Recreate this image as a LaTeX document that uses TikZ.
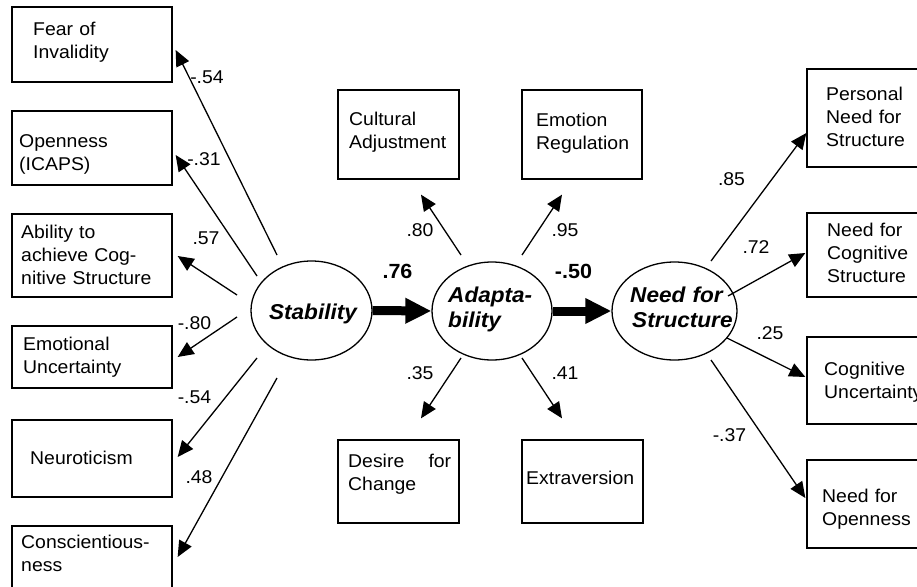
\documentclass[tikz,border=0pt]{standalone}
\usepackage{fontspec}
\setmainfont[FakeStretch=1.05]{Liberation Sans}
\usetikzlibrary{arrows.meta,shapes.geometric}
\tikzset{
  boxn/.style={draw, line width=1.3pt, inner sep=0pt, rectangle},
  elln/.style={draw, line width=1.3pt, inner sep=0pt, ellipse},
  txt/.style={inner sep=0pt, anchor=base west, align=left, text width=#1,
    font=\fontsize{18.5}{23}\selectfont},
  txt/.default=150pt,
  lat/.style={inner sep=0pt, anchor=base, font=\fontsize{21.5}{25}\selectfont\bfseries\itshape},
  latm/.style={inner sep=0pt, anchor=base west, align=left, text width=120pt,
    font=\fontsize{21.5}{25.5}\selectfont\bfseries\itshape},
  coef/.style={inner sep=0pt, font=\fontsize{18.5}{22}\selectfont},
  bcoef/.style={inner sep=0pt, font=\fontsize{20.5}{24}\selectfont\bfseries},
  arr/.style={line width=1.3pt, -{Triangle[length=16pt,width=14pt]}},
  bigarr/.style={line width=9pt, -{Triangle[length=26pt,width=24pt]}},
}
\begin{document}
\begin{tikzpicture}[x=1pt,y=-1pt]
\useasboundingbox[fill=white] (0,0) rectangle (917,586);

% left indicator boxes
\node[boxn, minimum width=160, minimum height=75] (fear) at (92,44.5) {};
\node[boxn, minimum width=160, minimum height=74] (open) at (92,148) {};
\node[boxn, minimum width=160, minimum height=83] (abil) at (92,255.5) {};
\node[boxn, minimum width=160, minimum height=62] (emou) at (92,357) {};
\node[boxn, minimum width=160, minimum height=77] (neur) at (92,458.5) {};
\node[boxn, minimum width=160, minimum height=78] (cons) at (92,565) {};

\node[txt] (fear-t) at (33,36) {Fear of\\Invalidity};
\node[txt] (open-t) at (19,147) {Openness\\(ICAPS)};
\node[txt] (abil-t) at (21,238) {Ability to\\achieve Cog-\\nitive Structure};
\node[txt] (emou-t) at (23,350) {Emotional\\Uncertainty};
\node[txt] (neur-t) at (30,464) {Neuroticism};
\node[txt] (cons-t) at (21,548) {Conscientious-\\ness};

% middle boxes
\node[boxn, minimum width=121, minimum height=89] (cult) at (398.5,134.5) {};
\node[boxn, minimum width=120, minimum height=89] (emre) at (582,134.5) {};
\node[boxn, minimum width=121, minimum height=83] (desi) at (398.5,481.5) {};
\node[boxn, minimum width=121, minimum height=83] (extr) at (582.5,481.5) {};

\node[txt=110pt] (cult-t) at (349,125) {Cultural\\Adjustment};
\node[txt=110pt] (emre-t) at (536,126) {Emotion\\Regulation};
\node[txt=103pt] (desi-t) at (348,467) {Desire\hfill for\\Change};
\node[txt=115pt] (extr-t) at (526,484) {Extraversion};

% right boxes
\node[boxn, minimum width=112, minimum height=98] (pnfs) at (863,118) {};
\node[boxn, minimum width=112, minimum height=84] (ncs) at (863,255) {};
\node[boxn, minimum width=112, minimum height=87] (cu) at (863,380.5) {};
\node[boxn, minimum width=112, minimum height=88] (nfo) at (863,504) {};

\node[txt=110pt] (pnfs-t) at (826,100) {Personal\\Need for\\Structure};
\node[txt=110pt] (ncs-t) at (827,236) {Need for\\Cognitive\\Structure};
\node[txt=110pt] (cu-t) at (824,375) {Cognitive\\Uncertainty};
\node[txt=110pt] (nfo-t) at (822,502) {Need for\\Openness};

% latent variables
\node[elln, minimum width=121, minimum height=99] (stab) at (311.5,310.5) {};
\node[elln, minimum width=120, minimum height=98] (adap) at (492,311) {};
\node[elln, minimum width=125, minimum height=98] (nfs) at (674.5,311) {};

\node[lat] (stab-t) at (313,319) {Stability};
\node[latm] (adap-t) at (448,302) {Adapta-\\bility};
\node[latm] (nfs-t) at (630,302) {Need for\\\hspace*{2pt}Structure};

% structural paths
\draw[bigarr] (stab.east) -- (adap.west);
\draw[bigarr] (adap.east) -- (nfs.west);
\node[bcoef] (c76) at (397.5,271) {.76};
\node[bcoef] (c50) at (573.5,271) {-.50};

% stability loadings
\coordinate (s1) at (277,255);
\coordinate (s2) at (257,276);
\coordinate (s3) at (237,295);
\coordinate (s4) at (237,317);
\coordinate (s5) at (257,358);
\coordinate (s6) at (277,378);
\draw[arr] (s1) -- ([shift={(3,5.5)}]fear.east);
\draw[arr] (s2) -- ([shift={(3,7)}]open.east);
\draw[arr] (s3) -- ([shift={(5,0.5)}]abil.east);
\draw[arr] (s4) -- ([shift={(5,0)}]emou.east);
\draw[arr] (s5) -- ([shift={(5,-1.5)}]neur.east);
\draw[arr] (s6) -- ([shift={(5,-8)}]cons.east);
\node[coef] (l1) at (207,77) {-.54};
\node[coef] (l2) at (204,159) {-.31};
\node[coef] (l3) at (206,238) {.57};
\node[coef] (l4) at (194.5,323) {-.80};
\node[coef] (l5) at (194.5,397) {-.54};
\node[coef] (l6) at (199,477) {.48};

% adaptability loadings
\coordinate (a1) at (461,255);
\coordinate (a2) at (522,255);
\coordinate (a3) at (461,358);
\coordinate (a4) at (522,358);
\draw[arr] (a1) -- ([shift={(22.5,15)}]cult.south);
\draw[arr] (a2) -- ([shift={(-20,15)}]emre.south);
\draw[arr] (a3) -- ([shift={(22.5,-21)}]desi.north);
\draw[arr] (a4) -- ([shift={(-20.5,-21)}]extr.north);
\node[coef] (m1) at (420,230) {.80};
\node[coef] (m2) at (565,230) {.95};
\node[coef] (m3) at (420,373) {.35};
\node[coef] (m4) at (565,373) {.41};

% need for structure loadings
\coordinate (r1) at (711,261);
\coordinate (r2) at (728,296);
\coordinate (r3) at (727,338);
\coordinate (r4) at (711,360);
\draw[arr] (r1) -- ([shift={(0,15)}]pnfs.west);
\draw[arr] (r2) -- ([shift={(-1,-2)}]ncs.west);
\draw[arr] (r3) -- ([shift={(-1,-3.5)}]cu.west);
\draw[arr] (r4) -- ([shift={(-1,-6)}]nfo.west);
\node[coef] (n1) at (731.5,179) {.85};
\node[coef] (n2) at (756,247) {.72};
\node[coef] (n3) at (770,333) {.25};
\node[coef] (n4) at (729.5,435) {-.37};
\end{tikzpicture}
\end{document}
